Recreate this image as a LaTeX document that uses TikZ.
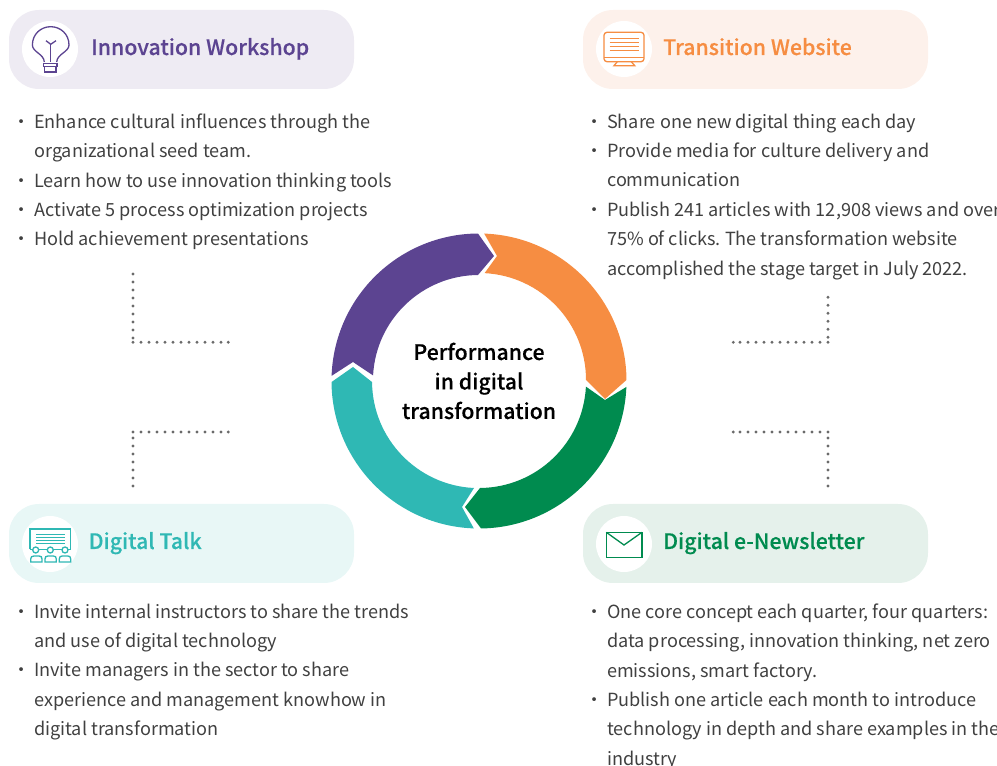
\documentclass[tikz,border=0pt]{standalone}
\usepackage{fontspec}
\setmainfont{Noto Sans CJK TC}
\newfontfamily\titlefont[FakeBold=0.25]{Noto Sans CJK TC Medium}
\usetikzlibrary{positioning}
\definecolor{purpleC}{HTML}{5C4491}
\definecolor{orangeC}{HTML}{F68D42}
\definecolor{tealC}{HTML}{2FB8B4}
\definecolor{greenC}{HTML}{008B4F}
\definecolor{purpleL}{HTML}{EEEBF3}
\definecolor{orangeL}{HTML}{FDF1EB}
\definecolor{tealL}{HTML}{E8F7F6}
\definecolor{greenL}{HTML}{E5F1EB}
\definecolor{bodyC}{HTML}{404040}
\definecolor{dotC}{HTML}{6A6A6A}
\tikzset{
  pill/.style={minimum width=345pt,minimum height=79pt,rounded corners=30pt,inner sep=0pt},
  iconbg/.style={circle,fill=white,minimum size=56pt,inner sep=0pt},
  title/.style={anchor=base west,inner sep=0pt,font=\titlefont\fontsize{21.3}{26}\selectfont},
  bodytext/.style={anchor=north west,inner sep=0pt,align=left,text=bodyC,font=\fontsize{18.1}{29.4}\selectfont},
  centertext/.style={align=center,inner sep=0pt,text=black,font=\titlefont\fontsize{21.3}{29.5}\selectfont},
  dots/.style={dotC,line width=3.2pt,line cap=round,dash pattern=on 0pt off 8pt},
  dotend/.style={fill=dotC,draw=none},
  icon/.style={line width=1.3pt},
}
\newcommand{\itm}{\llap{\makebox[21.5pt][l]{·}}}
\frenchspacing
\begin{document}
\begin{tikzpicture}[x=1pt,y=1pt]
 \useasboundingbox (0,0) rectangle (997,766);
 % header bars
 \node[pill,fill=purpleL] (workshop) at (181.5,716.5) {};
 \node[pill,fill=orangeL] (website) at (755.5,716.5) {};
 \node[pill,fill=tealL] (talk) at (181.5,222.5) {};
 \node[pill,fill=greenL] (letter) at (755.5,222.5) {};
 \node[iconbg] (workshopicon) at (50,717) {};
 \node[iconbg] (websiteicon) at (624,717) {};
 \node[iconbg] (talkicon) at (50,222) {};
 \node[iconbg] (lettericon) at (624,222) {};
 \node[title,text=purpleC] (workshoptitle) at (91,711) {Innovation Workshop};
 \node[title,text=orangeC] (websitetitle) at (663,711) {Transition Website};
 \node[title,text=tealC] (talktitle) at (88.5,217) {Digital Talk};
 \node[title,text=greenC] (lettertitle) at (663,217) {Digital e-Newsletter};
 % bulb
 \begin{scope}[shift={(workshopicon.center)},y=-1pt,icon,draw=purpleC]
  \draw (-5.7,13) .. controls (-6,5) and (-17.6,3) .. (-17.6,-4) .. controls (-17.6,-15) and (-9,-22.3) .. (0.7,-22.3) .. controls (10.4,-22.3) and (19,-15) .. (19,-4) .. controls (19,3) and (7,5) .. (6.7,13);
  \draw (0.7,13)--(0.7,-4.7);
  \draw (-4,-8.3)--(0.7,-4.7)--(6,-8.3);
  \draw (-6.7,14.3) rectangle (7,17.7);
  \draw (-5.7,17.7) rectangle (6,23);
 \end{scope}
 % monitor
 \begin{scope}[shift={(websiteicon.center)},y=-1pt,icon,draw=orangeC]
  \draw[rounded corners=3pt] (-20,-16.7) rectangle (20,12.7);
  \draw (-20,8.3)--(20,8.3);
  \draw (-14.3,-10.3)--(15,-10.3);
  \draw (-14.3,-6.3)--(15,-6.3);
  \draw (-14.3,-2.3)--(15,-2.3);
  \draw (-14.3,1.7)--(15,1.7);
  \draw (-6.7,12.7)--(-10,16.7)--(10.7,16.7)--(7.3,12.7);
 \end{scope}
 % board and audience
 \begin{scope}[shift={(talkicon.center)},y=-1pt,icon,draw=tealC]
  \draw (-20,5.5)--(-20,-15)--(20.7,-15)--(20.7,5.5);
  \draw (-20,5.5)--(-17.3,5.5);
  \draw (-11.3,5.5)--(-2.7,5.5);
  \draw (3.3,5.5)--(12,5.5);
  \draw (18,5.5)--(20.7,5.5);
  \draw (-14,-9.3)--(15,-9.3);
  \draw (-14,-6.3)--(15,-6.3);
  \draw (-14,-3.3)--(15,-3.3);
  \draw (-14,-0.3)--(15,-0.3);
  \draw (-14.3,6) circle (3pt);
  \draw (0.3,6) circle (3pt);
  \draw (15,6) circle (3pt);
  \draw (-19.3,18)--(-19.3,15) .. controls (-19.3,13) and (-18,12) .. (-16,12)--(-11,12) .. controls (-9,12) and (-8,13) .. (-8,15)--(-8,18)--cycle;
  \draw (-5,18)--(-5,15) .. controls (-5,13) and (-4,12) .. (-2,12)--(3.3,12) .. controls (5.3,12) and (6.3,13) .. (6.3,15)--(6.3,18)--cycle;
  \draw (9.3,18)--(9.3,15) .. controls (9.3,13) and (10.3,12) .. (12.3,12)--(17.7,12) .. controls (19.7,12) and (20.7,13) .. (20.7,15)--(20.7,18)--cycle;
 \end{scope}
 % envelope
 \begin{scope}[shift={(lettericon.center)},y=-1pt,icon,draw=greenC]
  \draw (-17.7,-11.7) rectangle (18,13.3);
  \draw (-17.7,-11.7)--(0,1)--(18,-11.7);
 \end{scope}
 % body text
 \node[bodytext] (workshoptext) at (34,652.5) {\itm Enhance cultural influences through the\\organizational seed team.\\\itm Learn how to use innovation thinking tools\\\itm Activate 5 process optimization projects\\\itm Hold achievement presentations};
 \node[bodytext] (websitetext) at (607,652.5) {\itm Share one new digital thing each day\\\itm Provide media for culture delivery and\\communication\\\itm Publish 241 articles with 12,908 views and over\\75\% of clicks. The transformation website\\accomplished the stage target in July 2022.};
 \node[bodytext] (talktext) at (34,162.5) {\itm Invite internal instructors to share the trends\\and use of digital technology\\\itm Invite managers in the sector to share\\experience and management knowhow in\\digital transformation};
 \node[bodytext] (lettertext) at (607,162.5) {\itm One core concept each quarter, four quarters:\\data processing, innovation thinking, net zero\\emissions, smart factory.\\\itm Publish one article each month to introduce\\technology in depth and share examples in the\\industry};
 % dotted leaders
 \coordinate (a1) at (133,492);
 \coordinate (a2) at (133,423.7);
 \coordinate (a3) at (228.3,423.7);
 \coordinate (b1) at (828,468.7);
 \coordinate (b2) at (828,423.7);
 \coordinate (b3) at (733.3,423.7);
 \coordinate (c1) at (133,280);
 \coordinate (c2) at (133,334);
 \coordinate (c3) at (228.3,334);
 \coordinate (d1) at (828,280);
 \coordinate (d2) at (828,334);
 \coordinate (d3) at (733.3,334);
 \draw[dots] (a1)--(a2);
 \draw[dots] (a2)--(a3);
 \fill[dotend] (a3) circle (1.6pt);
 \draw[dots] (b1)--(b2);
 \draw[dots] (b2)--(b3);
 \fill[dotend] (b3) circle (1.6pt);
 \draw[dots] (c1)--(c2);
 \draw[dots] (c2)--(c3);
 \fill[dotend] (c3) circle (1.6pt);
 \draw[dots] (d1)--(d2);
 \draw[dots] (d2)--(d3);
 \fill[dotend] (d3) circle (1.6pt);
 % ring
 \coordinate (ringc) at (479,385);
 \draw[fill=purpleC,draw=none] (ringc) ++(178:147.5) arc[start angle=178,end angle=90.4,radius=147.5] -- (494,510) -- (478,491) arc[start angle=90.5,end angle=177,radius=106] -- (353,404) -- cycle;
 \draw[fill=orangeC,draw=none] (ringc) ++(88:147.5) arc[start angle=88,end angle=0.4,radius=147.5] -- (605,367) -- (586,386) arc[start angle=0,end angle=87,radius=107] -- (497,510) -- cycle;
 \draw[fill=tealC,draw=none] (ringc) ++(180.4:147.5) arc[start angle=180.4,end angle=268,radius=147.5] -- (462,259) -- (474,278) arc[start angle=267.3,end angle=180.5,radius=107] -- (353,399) -- cycle;
 \draw[fill=greenC,draw=none] (ringc) ++(-2.3:147.5) arc[start angle=-2.3,end angle=-89.2,radius=147.5] -- (465,259) -- (480,278) arc[start angle=-89.5,end angle=-3,radius=107] -- (605,366) -- cycle;
 \node[centertext] (ringlabel) at (479,385) {Performance\\in digital\\transformation};
\end{tikzpicture}
\end{document}
